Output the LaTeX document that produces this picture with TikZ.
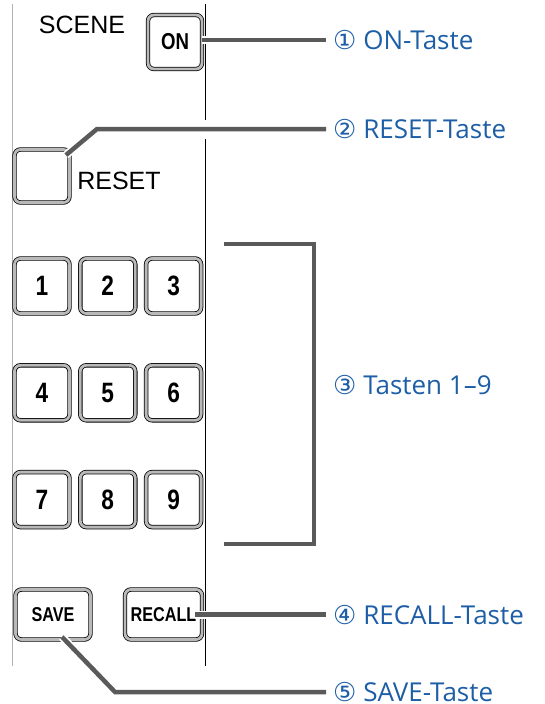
\documentclass[tikz,border=0pt]{standalone}
\usepackage{fontspec}
\setmainfont{Liberation Sans}
\newfontfamily\keyfont[FakeStretch=0.81]{Liberation Sans}
\newfontfamily\labfont{Open Sans}
\newfontfamily\numfont{DejaVu Sans}
\usetikzlibrary{positioning}
\definecolor{leadgray}{HTML}{5A5A5A}
\definecolor{tasteblue}{HTML}{1D5EA6}

\begin{document}
\begin{tikzpicture}[x=1pt, y=-1pt,
  key/.style={draw=black, line width=0.8pt, double=gray!55, double distance=2.8pt, rounded corners=6pt, fill=white, minimum width=55pt, minimum height=55pt, inner sep=0pt, font=\keyfont\bfseries\fontsize{28}{28}\selectfont},
  longkey/.style={key, minimum width=75pt, minimum height=50pt, font=\keyfont\bfseries\fontsize{20}{20}\selectfont},
  paneltext/.style={inner sep=0pt, font=\fontsize{25}{25}\selectfont},
  lead/.style={draw=leadgray, line width=4.5pt, line join=miter, preaction={draw=white, line width=8pt}},
  callout/.style={anchor=west, text=tasteblue, inner sep=0pt, font=\labfont\fontsize{26}{26}\selectfont},
  node distance=51pt and 10pt
]
  \useasboundingbox (0,0) rectangle (544,704);

  % panel edges
  \draw[gray!60, line width=0.8pt] (12,4) -- (12,666);
  \draw[black, line width=0.8pt] (205,4) -- (205,120) (205,139) -- (205,666);

  % keys
  \node[key, minimum width=54pt, minimum height=54pt, font=\keyfont\bfseries\fontsize{23}{23}\selectfont] (on) at (175,42) {ON};
  \node[paneltext] (scene) at (82,25) {SCENE};
  \node[key, minimum height=53pt] (reset) at (42,176) {};
  \node[paneltext] (resettext) at (119,181) {RESET};

  \node[key] (k1) at (42,286) {1};
  \node[key, right=of k1] (k2) {2};
  \node[key, right=of k2] (k3) {3};
  \node[key, below=of k1] (k4) {4};
  \node[key, right=of k4] (k5) {5};
  \node[key, right=of k5] (k6) {6};
  \node[key, below=of k4] (k7) {7};
  \node[key, right=of k7] (k8) {8};
  \node[key, right=of k8] (k9) {9};

  \node[longkey] (save) at (53,614.5) {SAVE};
  \node[longkey, minimum width=77pt] (recall) at (163.5,614.5) {RECALL};

  % callouts
  \node[callout] (lab1) at (333,40) {{\numfont ①} ON-Taste};
  \node[callout] (lab2) at (333,129) {{\numfont ②} RESET-Taste};
  \node[callout] (lab3) at (333,385) {{\numfont ③} Tasten 1–9};
  \node[callout] (lab4) at (333,615) {{\numfont ④} RECALL-Taste};
  \node[callout] (lab5) at (333,692) {{\numfont ⑤} SAVE-Taste};

  \coordinate (rbend) at (97,129);
  \coordinate (sbend) at (115,692);
  \coordinate (brtop) at (224,244);
  \coordinate (brbot) at (224,544);

  \draw[lead] (on.east |- lab1.west) -- ([xshift=-7pt]lab1.west);
  \draw[lead] ([shift={(-4,6)}]reset.north east) -- (rbend) -- ([xshift=-7pt]rbend -| lab2.west);
  \draw[lead] (brtop) -- ++(90,0) |- (brbot);
  \draw[lead] ([xshift=-7pt]recall.east) -- ([xshift=-7pt]recall.east -| lab4.west);
  \draw[lead] ([shift={(9,-3)}]save.south) -- (sbend) -- ([xshift=-7pt]sbend -| lab5.west);
\end{tikzpicture}
\end{document}
